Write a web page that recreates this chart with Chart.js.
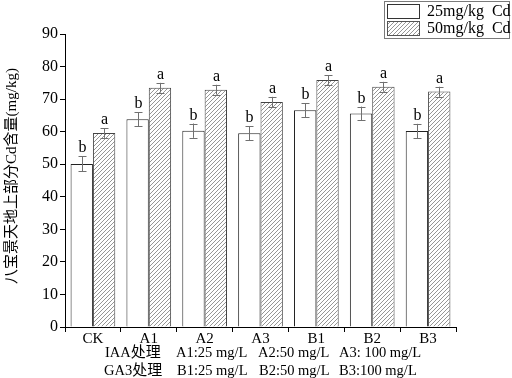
<!DOCTYPE html>
<html>
<head>
<meta charset="utf-8">
<script src="https://cdn.jsdelivr.net/npm/chart.js@4/dist/chart.umd.min.js"></script>
<style>
  html, body { margin: 0; padding: 0; background: #fff; }
  #wrap { width: 512px; height: 378px; position: relative; }
</style>
</head>
<body>
<div id="wrap"><canvas id="c" width="512" height="378"></canvas></div>
<script>
// data
var categories = ['CK', 'A1', 'A2', 'A3', 'B1', 'B2', 'B3'];
var cd25 = [50.1, 63.8, 60.3, 59.5, 66.6, 65.6, 60.2];
var cd25Err = [2.3, 2.1, 2.2, 2.1, 2.2, 2.1, 2.2];
var cd25Sig = ['b', 'b', 'b', 'b', 'b', 'b', 'b'];
var cd50 = [59.6, 73.5, 72.9, 69.1, 75.9, 73.8, 72.3];
var cd50Err = [1.5, 1.5, 1.5, 1.6, 1.5, 1.5, 1.5];
var cd50Sig = ['a', 'a', 'a', 'a', 'a', 'a', 'a'];
var seriesNames = ['25mg/kg  Cd', '50mg/kg  Cd'];
var yTitle = '八宝景天地上部分Cd含量(mg/kg)';
var noteHeads = [['IAA', '处理'], ['GA3', '处理']];
var noteItems = [
  ['A1:25 mg/L', 'A2:50 mg/L', 'A3: 100 mg/L'],
  ['B1:25 mg/L', 'B2:50 mg/L', 'B3:100 mg/L']
];

var serif = '"Liberation Serif", "Times New Roman", serif';
var cjk = '"Liberation Serif", "Noto Sans CJK SC", serif';

// diagonal hatch fill
function makeHatch() {
  var p = document.createElement('canvas');
  p.width = 4; p.height = 4;
  var g = p.getContext('2d');
  g.fillStyle = '#fff';
  g.fillRect(0, 0, 4, 4);
  g.strokeStyle = '#8a8a8a';
  g.lineWidth = 0.9;
  g.beginPath();
  g.moveTo(0, 4); g.lineTo(4, 0);
  g.moveTo(-1, 1); g.lineTo(1, -1);
  g.moveTo(3, 5); g.lineTo(5, 3);
  g.stroke();
  return g.createPattern(p, 'repeat');
}
var hatch = makeHatch();

var errs = [cd25Err, cd50Err];
var sigs = [cd25Sig, cd50Sig];

var extras = {
  id: 'extras',
  afterDatasetsDraw: function(chart) {
    var ctx = chart.ctx;
    var y = chart.scales.y;
    ctx.save();
    for (var d = 0; d < 2; d++) {
      var meta = chart.getDatasetMeta(d);
      var vals = chart.data.datasets[d].data;
      meta.data.forEach(function(bar, i) {
        var x = Math.round(bar.x) + 0.5;
        var top = y.getPixelForValue(vals[i] + errs[d][i]);
        var bot = y.getPixelForValue(vals[i] - errs[d][i]);
        ctx.strokeStyle = '#707070';
        ctx.lineWidth = 1;
        ctx.beginPath();
        ctx.moveTo(x, top); ctx.lineTo(x, bot);
        ctx.moveTo(x - 4, Math.round(top) + 0.5); ctx.lineTo(x + 4, Math.round(top) + 0.5);
        ctx.moveTo(x - 4, Math.round(bot) + 0.5); ctx.lineTo(x + 4, Math.round(bot) + 0.5);
        ctx.stroke();
        ctx.fillStyle = '#000';
        ctx.font = '16px ' + serif;
        ctx.textAlign = 'center';
        ctx.textBaseline = 'alphabetic';
        ctx.fillText(sigs[d][i], x, top - 4);
      });
    }
    ctx.restore();
  },
  afterDraw: function(chart) {
    var ctx = chart.ctx;
    ctx.save();
    // y title
    ctx.translate(12, 176);
    ctx.rotate(-Math.PI / 2);
    ctx.fillStyle = '#000';
    ctx.font = '15px ' + cjk;
    ctx.textAlign = 'center';
    ctx.textBaseline = 'middle';
    ctx.fillText(yTitle, 0, 0);
    ctx.restore();

    // notes under the axis
    ctx.save();
    ctx.fillStyle = '#000';
    ctx.textBaseline = 'alphabetic';
    ctx.textAlign = 'left';
    var heads = [105, 104];
    var cols = [[176, 258, 339], [177, 259, 339]];
    for (var r = 0; r < 2; r++) {
      var by = 357 + r * 18;
      ctx.font = '14.5px ' + serif;
      ctx.fillText(noteHeads[r][0], heads[r], by);
      var w = ctx.measureText(noteHeads[r][0]).width;
      ctx.font = '15px "Noto Sans CJK SC", sans-serif';
      ctx.fillText(noteHeads[r][1], heads[r] + w, by);
      ctx.font = '14.5px ' + serif;
      for (var k = 0; k < 3; k++) ctx.fillText(noteItems[r][k], cols[r][k], by);
    }
    ctx.restore();

    // legend box
    ctx.save();
    ctx.strokeStyle = '#7a7a7a';
    ctx.lineWidth = 1;
    ctx.strokeRect(384.5, 1.5, 125, 37);
    ctx.fillStyle = '#fff';
    ctx.fillRect(387, 4, 32, 14);
    ctx.strokeStyle = '#333';
    ctx.strokeRect(387.5, 4.5, 32, 14);
    ctx.fillStyle = hatch;
    ctx.fillRect(387, 21, 32, 14);
    ctx.strokeStyle = '#555';
    ctx.strokeRect(387.5, 21.5, 32, 14);
    ctx.fillStyle = '#000';
    ctx.font = '16px ' + serif;
    ctx.textBaseline = 'middle';
    ctx.fillText(seriesNames[0], 427, 12);
    ctx.fillText(seriesNames[1], 427, 29);
    ctx.restore();
  }
};

new Chart(document.getElementById('c'), {
  type: 'bar',
  data: {
    labels: categories,
    datasets: [{
      label: seriesNames[0],
      data: cd25,
      backgroundColor: '#fff',
      borderColor: '#222',
      borderWidth: 1
    }, {
      label: seriesNames[1],
      data: cd50,
      backgroundColor: hatch,
      borderColor: '#444',
      borderWidth: 1
    }]
  },
  options: {
    responsive: false,
    animation: false,
    devicePixelRatio: 1,
    layout: { padding: { top: 34, right: 56, left: 0, bottom: 0 } },
    plugins: { legend: { display: false }, tooltip: { enabled: false } },
    datasets: { bar: { categoryPercentage: 0.8, barPercentage: 1.0 } },
    scales: {
      x: {
        grid: { drawOnChartArea: false, color: '#000', tickLength: 5, offset: true },
        border: { color: '#000', width: 1 },
        ticks: { color: '#000', font: { family: serif, size: 15 }, padding: -2, maxRotation: 0 },
        afterFit: function(s) { s.height = 51; }
      },
      y: {
        min: 0, max: 90,
        grid: { drawOnChartArea: false, color: '#000', tickLength: 5 },
        border: { color: '#000', width: 1 },
        ticks: {
          stepSize: 5,
          color: '#000',
          font: { family: serif, size: 16 },
          padding: 2,
          callback: function(v) { return v % 10 === 0 ? v : ''; }
        },
        afterFit: function(s) { s.width = 65; }
      }
    }
  },
  plugins: [extras]
});
</script>
</body>
</html>
